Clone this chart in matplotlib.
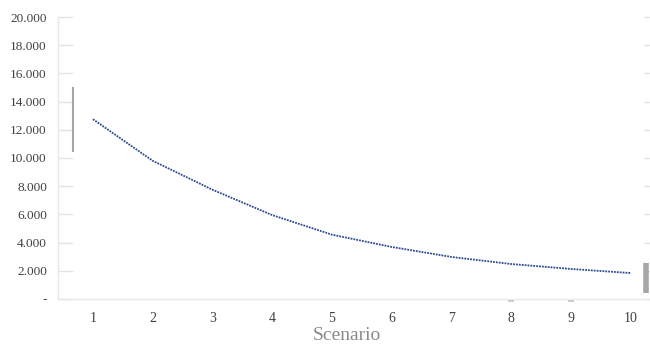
import matplotlib
matplotlib.use("Agg")
import matplotlib.pyplot as plt
from matplotlib.ticker import FixedLocator, FuncFormatter

plt.rcParams['font.family'] = ['Liberation Serif', 'DejaVu Serif']

scenarios = [1, 2, 3, 4, 5, 6, 7, 8, 9, 10]
values = [12750, 9800, 7750, 5950, 4560, 3690, 2980, 2480, 2130, 1840]
y_ticks = [0, 2000, 4000, 6000, 8000, 10000, 12000, 14000, 16000, 18000, 20000]

# stray grey range bars and marks seen in the chart
left_bar = (0.665, 10400, 15000)
right_bar = (10.25, 430, 2550)
stray_marks_x = [8, 9]

fig = plt.figure(figsize=(6.5, 3.46), dpi=100)
ax = fig.add_axes([58/650, 1-299/346, 1-58/650, (299-17)/346])

ax.plot(scenarios, values, color='#2a4a8e', lw=1.3,
        linestyle=(0, (1.0, 0.6)), dash_capstyle='butt', solid_joinstyle='round')

ax.vlines(left_bar[0], left_bar[1], left_bar[2], color='#a6a6a6', lw=1.5)
ax.vlines(right_bar[0], right_bar[1], right_bar[2], color='#a6a6a6', lw=4)
ax.plot(stray_marks_x, [-150]*len(stray_marks_x), ls='none', marker='_',
        ms=5, mew=1.2, color='#c0c0c0', clip_on=False)

ax.set_xlim(0.415, 10.32)
ax.set_ylim(0, 20000)

ax.yaxis.set_major_locator(FixedLocator(y_ticks))
def yfmt(v, pos):
    if v == 0:
        return '-'
    return f"{int(v):,}".replace(',', '.')
ax.yaxis.set_major_formatter(FuncFormatter(yfmt))
ax.set_xticks(scenarios)

for s in ['top', 'right']:
    ax.spines[s].set_visible(False)
ax.spines['left'].set_color('#e8e8e8')
ax.spines['bottom'].set_color('#e8e8e8')
ax.spines['left'].set_linewidth(1)
ax.spines['bottom'].set_linewidth(1)

ax.tick_params(axis='y', which='both', direction='in', length=11, width=1,
               color='#e3e3e3', labelsize=9.5, labelcolor='#404040', pad=8,
               right=True)
ax.tick_params(axis='x', length=0, labelsize=10, labelcolor='#404040', pad=9)
for t in ax.yaxis.get_major_ticks():
    t.tick2line.set_markersize(4)

ax.set_xlabel('Scenario', fontsize=14, color='#8a8a8a')
ax.xaxis.set_label_coords((347-58)/592, -28.5/282)
ax.xaxis.label.set_va('top')

fig.savefig('out.png', dpi=100)
